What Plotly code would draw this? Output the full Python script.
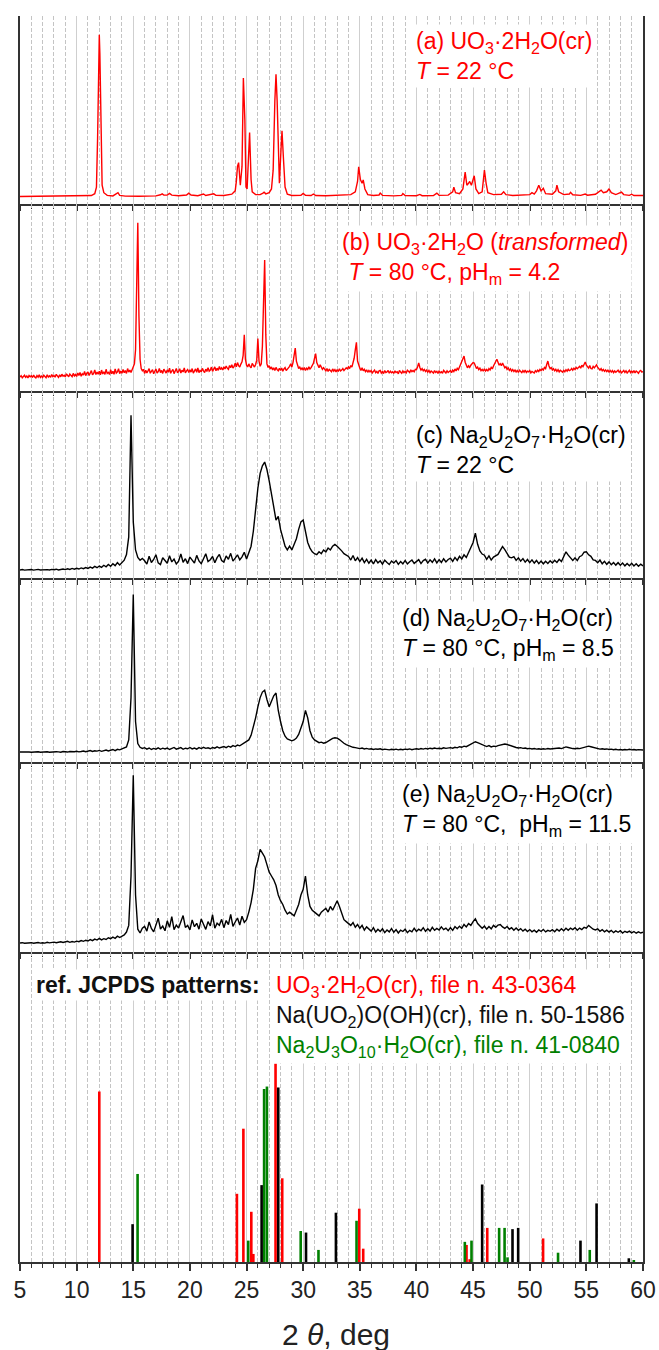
import numpy as np
import plotly.graph_objects as go

# ---------------- data ----------------
# (a) UO3.2H2O(cr), 22 C  -- smooth pattern, vertices (2theta, relative intensity %)
a_x = [5.0, 6.5, 8.0, 9.5, 10.5, 11.3, 11.6, 11.75, 11.85, 11.95, 12.0, 12.05, 12.15, 12.25, 12.4, 12.7,
       13.2, 13.5, 13.65, 13.8, 14.3, 15.5, 17.0, 17.4, 17.55, 17.7, 18.0, 18.2, 18.4, 19.0, 19.7, 19.9,
       20.1, 20.7, 21.1, 21.2, 21.4, 21.9, 22.1, 22.3, 23.0, 23.7, 24.0, 24.1, 24.2, 24.3, 24.45, 24.6,
       24.72, 24.85, 24.95, 25.05, 25.15, 25.27, 25.4, 25.5, 25.8, 26.2, 26.45, 26.55, 26.7, 27.0, 27.2,
       27.35, 27.5, 27.6, 27.7, 27.9, 28.05, 28.13, 28.25, 28.4, 28.6, 29.0, 29.8, 30.0, 30.2, 30.7, 30.9,
       31.1, 32.0, 32.7, 33.5, 34.2, 34.6, 34.8, 34.9, 35.05, 35.2, 35.3, 35.45, 35.7, 36.2, 36.7, 36.8,
       37.0, 38.0, 38.7, 38.8, 39.0, 40.0, 40.3, 40.5, 41.5, 41.8, 42.0, 42.8, 43.2, 43.3, 43.45, 43.8,
       44.1, 44.3, 44.45, 44.6, 44.7, 44.85, 45.0, 45.1, 45.25, 45.5, 45.8, 46.0, 46.15, 46.3, 46.8,
       47.5, 47.7, 47.9, 48.5, 49.5, 50.0, 50.2, 50.4, 50.6, 50.8, 51.0, 51.2, 51.4, 52.0, 52.3, 52.4,
       52.55, 53.0, 53.5, 53.6, 53.8, 54.5, 54.9, 55.1, 55.8, 56.1, 56.3, 56.5, 56.8, 57.0, 57.2, 57.6,
       58.1, 58.3, 58.8, 59.0, 59.2, 60.0]
a_y = [4.0, 4.1, 4.0, 4.2, 4.1, 4.5, 5.5, 9, 35, 80, 90, 80, 35, 10, 6, 4.6,
       4.3, 5.2, 6.0, 4.6, 4.2, 4.1, 4.3, 4.9, 5.4, 4.7, 4.8, 5.6, 4.7, 4.4, 4.8, 5.8,
       4.8, 4.4, 5.0, 5.3, 4.5, 4.9, 5.4, 4.6, 4.5, 5.2, 7, 12, 20, 22, 10, 20,
       67, 45, 9, 8, 20, 38, 13, 6.5, 5.0, 5.0, 5.8, 6.3, 5.4, 6.0, 8,
       18, 55, 69, 55, 11, 30, 39, 25, 9, 5.2, 4.5, 4.6, 5.6, 4.6, 4.5, 5.3,
       4.5, 4.4, 4.6, 4.8, 5.0, 6.5, 12, 19.8, 13, 11, 12.8, 8, 5, 4.5, 4.8, 5.8,
       4.6, 4.3, 4.6, 5.6, 4.5, 4.4, 5.1, 4.4, 4.5, 5.8, 4.6, 4.7, 6.5, 9, 6, 5.5,
       8, 17, 10, 11, 12, 10, 13, 15, 8, 5.5, 6.5, 18, 11, 6, 5,
       5.2, 6.5, 5.0, 4.5, 4.6, 5.0, 6.0, 5.3, 7, 10, 7, 8.4, 5.5, 5.2, 7, 10,
       6.5, 5.0, 5.3, 6.2, 4.9, 4.6, 5.3, 4.7, 5.2, 6.5, 7.4, 6.0, 6.5, 8, 6, 5.0,
       6.3, 5.0, 4.6, 5.2, 4.5, 4.5]

# (b) UO3.2H2O transformed, 80 C, pHm 4.2 -- scan 5..60 deg, step 0.1
b_start, b_step = 5.0, 0.1
b_y = [7.4, 8.2, 7.1, 7.9, 8.4, 7.3, 8.0, 7.0, 8.3, 7.6,
       8.1, 7.2, 8.5, 7.5, 7.0, 8.2, 7.4, 8.6, 7.3, 8.0,
       7.2, 8.4, 7.6, 7.1, 8.7, 7.5, 8.1, 7.3, 8.8, 7.7,
       8.3, 7.4, 8.9, 7.8, 7.3, 8.6, 7.6, 9.0, 7.9, 8.4,
       7.5, 9.2, 8.0, 7.6, 9.1, 8.2, 7.7, 9.4, 8.1, 8.8,
       7.8, 9.6, 8.3, 9.9, 7.9, 9.2, 8.5, 10.4, 8.2, 9.5,
       10.2, 8.3, 9.8, 10.9, 8.6, 9.4, 11.3, 8.8, 10.1, 9.0,
       10.6, 8.7, 11.2, 9.1, 10.3, 8.9, 11.6, 9.4, 10.0, 8.8,
       11.4, 9.2, 10.5, 8.9, 11.8, 9.6, 10.2, 11.9, 9.3, 10.7,
       9.5, 11.5, 9.8, 10.9, 9.4, 12.0, 10.1, 11.2, 9.9, 11.8,
       12.5, 14.5, 22, 55, 90, 40, 17, 12, 10.8, 11.6,
       9.4, 11.1, 9.7, 10.8, 12.0, 9.5, 10.6, 11.4, 9.2, 10.9,
       11.8, 9.6, 10.3, 12.1, 9.8, 11.0, 9.4, 11.7, 10.2, 9.6,
       11.3, 10.0, 12.2, 9.5, 10.7, 11.6, 9.3, 10.9, 12.0, 9.8,
       10.5, 11.9, 9.6, 11.1, 10.2, 12.3, 9.7, 10.8, 11.5, 9.9,
       11.4, 10.1, 12.0, 9.6, 10.9, 11.8, 10.0, 12.4, 9.8, 11.0,
       10.3, 12.1, 10.8, 9.9, 11.7, 10.4, 12.5, 10.6, 11.2, 12.8,
       10.5, 11.6, 12.9, 10.8, 12.2, 11.0, 13.1, 11.5, 12.4, 11.2,
       12.9, 11.8, 13.4, 12.2, 11.6, 13.6, 12.5, 14.0, 12.3, 13.2,
       14.8, 13.0, 15.2, 13.6, 12.8, 14.4, 15.6, 19, 30, 17,
       13.8, 12.9, 14.5, 13.2, 12.4, 14.8, 13.5, 12.8, 14.2, 16.5,
       28, 16, 13.2, 14.5, 24, 58, 70, 30, 14.5, 12.6,
       13.5, 11.8, 12.9, 11.2, 12.4, 11.0, 12.6, 11.4, 10.8, 12.1,
       11.0, 12.3, 10.6, 11.8, 12.5, 10.9, 11.6, 12.8, 13.2, 14.6,
       12.8, 15.2, 19, 23, 16, 13.2, 12.0, 12.8, 11.5, 12.3,
       11.2, 12.6, 11.0, 12.2, 11.5, 12.9, 11.8, 12.5, 13.6, 14.8,
       17.5, 20, 15.2, 13.5, 12.4, 14.0, 12.2, 11.6, 12.5, 11.2,
       10.8, 12.0, 10.5, 11.6, 11.0, 10.3, 11.8, 10.6, 11.4, 10.2,
       11.5, 10.4, 11.9, 10.7, 11.2, 12.0, 10.9, 11.7, 12.4, 11.8,
       12.9, 12.0, 13.6, 12.8, 15.0, 17.5, 22, 26, 16, 13.2,
       12.2, 11.0, 12.4, 10.8, 11.6, 10.4, 11.3, 10.0, 11.0, 10.2,
       10.9, 9.7, 10.6, 11.2, 9.8, 10.5, 9.4, 10.8, 11.0, 9.6,
       10.4, 9.3, 10.9, 9.9, 10.2, 11.0, 9.5, 10.6, 9.8, 10.3,
       9.4, 10.8, 9.9, 10.3, 9.2, 11.0, 10.1, 9.5, 10.7, 9.8,
       10.5, 9.7, 11.1, 10.2, 9.9, 11.3, 10.4, 11.0, 10.3, 11.6,
       11.4, 13.0, 15, 12.6, 11.2, 12.0, 10.8, 11.5, 10.4, 11.2,
       10.1, 11.0, 9.8, 10.7, 10.2, 9.6, 10.9, 9.9, 10.5, 9.4,
       10.6, 9.8, 10.3, 9.5, 11.0, 10.0, 9.6, 10.8, 9.9, 10.4,
       10.9, 9.8, 11.2, 10.4, 11.8, 10.7, 12.1, 11.4, 13.0, 14.6,
       16.0, 17.6, 18.7, 15.4, 13.6, 12.4, 13.5, 12.6, 13.8, 14.4,
       15.2, 15, 13.2, 12.0, 12.8, 11.4, 12.2, 10.9, 11.6, 10.6,
       11.8, 10.7, 11.5, 10.6, 12.0, 11.3, 12.6, 11.8, 13.4, 14.5,
       15.8, 17, 15.4, 13.8, 14.6, 13.5, 15, 13.2, 12.4, 13.0,
       11.6, 12.4, 11.0, 11.8, 10.6, 11.5, 10.4, 11.2, 10.2, 11.0,
       10.0, 11.1, 10.3, 9.8, 10.9, 10.1, 11.2, 9.9, 10.6, 10.2,
       10.9, 9.7, 10.5, 10.1, 9.6, 10.8, 10.2, 11.1, 10.4, 11.5,
       10.9, 11.8, 11.2, 12.6, 12.0, 14.2, 16, 13.4, 12.0, 12.5,
       11.2, 11.9, 10.8, 11.6, 10.5, 11.4, 10.2, 11.1, 10.6, 10.1,
       11.0, 10.3, 11.4, 10.6, 11.6, 10.9, 11.2, 12.0, 11.1, 12.2,
       11.5, 12.6, 11.9, 12.8, 13.2, 12.2, 13.8, 13.0, 14.4, 15.5,
       13.8, 13.2, 12.2, 13.6, 12.0, 11.8, 13.2, 12.4, 13.6, 14.0,
       12.6, 11.8, 11.2, 12.0, 10.8, 11.5, 10.5, 11.3, 10.4, 11.1,
       10.2, 11.0, 10.1, 10.9, 9.8, 10.7, 10.0, 10.6, 11.2, 10.0,
       10.8, 9.7, 10.6, 11.0, 9.9, 10.8, 9.6, 10.5, 11.1, 9.8,
       10.6, 9.9, 10.9, 9.7, 10.7, 10.2, 9.5, 10.6, 11.0, 10.1,
       10.4]

# (c), (d), (e) Na2U2O7.H2O(cr) -- scan 5..60 deg, step 0.2
cde_start, cde_step = 5.0, 0.2
c_y = [4.3, 4.5, 4.2, 4.4, 4.3, 4.5, 4.2, 4.4, 4.6, 4.3, 4.4, 4.2, 4.5, 4.3, 4.6,
       4.4, 4.7, 4.3, 4.5, 4.8, 4.5, 4.9, 4.6, 5.1, 4.7, 5.2, 4.8, 5.4, 5.0, 5.6,
       5.1, 5.8, 5.3, 6.2, 5.5, 6.4, 5.7, 6.8, 6.0, 7.2, 6.3, 7.6, 6.6, 8.2, 7.0,
       8.0, 9.5, 12.5, 22, 87, 30, 15, 11, 9.5, 10.5,
       9.2, 7.4, 11.6, 8.3, 9.9, 12.4, 8.1, 7.2, 10.8, 9.4, 7.9, 11.9, 8.6, 10.1, 7.5,
       9.0, 12.8, 8.4, 10.3, 7.7, 11.2, 9.6, 8.0, 12.1, 9.1, 7.6, 10.7, 13.0, 8.8, 9.8,
       11.5, 8.2, 10.9, 12.6, 9.3, 8.5, 11.8, 10.0, 13.2, 9.0, 10.6, 12.4, 9.7, 11.3, 13.8,
       10.2, 13.5, 17, 25, 38, 48, 56, 60, 62, 58, 52, 44, 38, 31, 33,
       26, 21, 17, 15, 17, 15, 18, 21, 26, 30, 31, 24, 19, 16, 14,
       13, 12.5, 14, 13, 15, 14, 16, 15, 17, 18, 17, 16, 14.5, 13, 12,
       11.5, 9.6, 12.0, 9.2, 10.9, 8.8, 10.6, 8.2, 10.0, 7.9, 9.6, 7.6, 9.8, 8.1, 9.2,
       7.4, 9.5, 8.3, 7.2, 9.1, 8.0, 9.3, 7.3, 8.8, 7.6, 9.4, 7.5, 8.7, 9.6, 7.8,
       8.9, 9.8, 7.7, 9.3, 10.0, 8.0, 9.7, 8.4, 10.2, 8.1, 9.8, 8.3, 10.3, 8.6, 9.9,
       10.6, 8.9, 11.0, 9.4, 11.6, 10.2, 12.4, 11.0, 13.8, 16, 19, 24, 18, 14.5, 12.8,
       12.2, 10.0, 11.8, 9.6, 11.2, 11.8, 12.6, 14.8, 16.8, 15.2, 13.4, 11.2, 10.8, 11.4, 9.4,
       10.8, 9.0, 10.4, 8.5, 9.9, 8.2, 9.7, 8.0, 9.4, 7.7, 9.1, 7.6, 9.0, 7.8, 9.2,
       8.0, 9.5, 8.3, 10.0, 8.8, 11.5, 14, 12.2, 10.9, 9.4, 10.8, 9.3, 11.4, 12.0, 13.8,
       14, 12.4, 11.6, 9.7, 9.4, 8.2, 9.6, 7.6, 8.9, 7.3, 8.6, 7.1, 8.3, 6.9, 8.2,
       6.8, 8.0, 6.5, 7.8, 6.6, 7.9, 6.4, 7.6, 6.3, 7.4, 6.4]

d_y = [5.4, 5.5, 5.3, 5.5, 5.4, 5.3, 5.5, 5.4, 5.6, 5.3, 5.5, 5.4, 5.6, 5.3, 5.5,
       5.4, 5.6, 5.5, 5.3, 5.7, 5.5, 5.4, 5.7, 5.5, 5.6, 5.8, 5.5, 5.7, 6.0, 5.6,
       5.9, 6.2, 5.7, 6.1, 5.9, 6.3, 5.8, 6.2, 6.5, 6.0, 6.4, 6.8, 6.2, 6.9, 6.6,
       7.0, 7.5, 8.2, 12, 35, 91, 22, 10, 8.0, 7.4,
       7.8, 7.0, 7.6, 6.8, 7.4, 7.0, 7.7, 6.9, 7.5, 7.1, 7.6, 6.8, 7.4, 7.9, 7.0,
       7.3, 7.8, 6.9, 7.5, 7.2, 7.9, 7.1, 7.6, 7.0, 7.8, 7.3, 8.0, 7.4, 7.7, 7.2,
       7.9, 7.5, 8.2, 7.6, 8.0, 8.4, 7.8, 8.6, 8.1, 8.9, 8.4, 9.2, 8.8, 9.6, 10.2,
       10.8, 12, 14.5, 19, 24, 30, 35, 38, 39, 34, 30, 33, 36, 37.5, 28,
       22, 17, 14, 12.5, 12, 11.5, 12, 13, 15, 18, 22, 28, 24, 17, 13.5,
       12, 11.2, 10.5, 10.8, 10.2, 10.6, 11.4, 12, 12.8, 13.2, 13, 12.2, 11, 10.2, 9.4,
       8.8, 8.4, 8.0, 7.8, 7.5, 7.3, 7.6, 7.1, 7.4, 7.0, 7.2, 6.8, 7.1, 6.9, 7.2,
       6.7, 7.0, 6.8, 6.6, 6.9, 6.7, 7.0, 6.6, 6.9, 6.7, 7.0, 6.8, 7.1, 6.7, 7.0,
       7.2, 6.9, 7.3, 7.0, 7.4, 7.1, 7.5, 7.2, 7.6, 7.3, 7.5, 7.2, 7.7, 7.4, 7.6,
       7.8, 7.5, 8.0, 7.7, 8.3, 8.0, 8.6, 8.3, 9.0, 9.5, 10.2, 11.0, 10.5, 10.0, 9.2,
       8.8, 8.4, 8.9, 8.2, 8.6, 8.4, 8.9, 9.2, 9.5, 9.8, 9.5, 9.0, 8.6, 8.2, 7.9,
       7.6, 7.8, 7.4, 7.6, 7.2, 7.4, 7.1, 7.3, 7.0, 7.2, 6.9, 7.2, 7.0, 7.3, 7.1,
       7.2, 7.4, 7.1, 7.6, 7.3, 7.8, 8.2, 7.9, 7.5, 7.3, 7.2, 7.5, 7.3, 7.7, 8.0,
       8.2, 8.6, 8.3, 7.9, 7.6, 7.3, 7.0, 7.2, 6.9, 7.1, 6.8, 7.0, 6.7, 6.9, 6.6,
       6.8, 6.5, 6.8, 6.6, 6.9, 6.6, 6.8, 6.5, 6.7, 6.6, 6.5]

e_y = [4.7, 4.9, 4.6, 4.8, 4.7, 4.9, 4.6, 4.8, 5.0, 4.7, 4.9, 4.7, 5.1, 4.8, 5.0,
       5.2, 4.9, 5.1, 5.4, 5.0, 5.3, 5.6, 5.1, 5.5, 5.2, 5.7, 5.4, 6.0, 5.6, 6.2,
       5.8, 6.5, 6.0, 6.8, 6.3, 7.2, 6.4, 7.0, 6.6, 7.5, 7.0, 7.8, 7.2, 8.3, 7.6,
       8.5, 9.0, 10.5, 14, 40, 93, 30, 12, 10, 12.5,
       13.5, 11, 15.8, 12.4, 10.6, 14.9, 17.8, 12.1, 13.6, 11.2, 16.4, 13.0, 18.6, 11.8, 14.2,
       12.6, 15.5, 19.2, 12.9, 14.0, 11.6, 16.9, 13.3, 15.1, 12.0, 17.4, 14.6, 11.9, 16.0, 13.7,
       19.6, 12.5, 15.2, 14.1, 17.2, 12.8, 16.6, 14.4, 19.8, 13.5, 15.8, 17.9, 14.2, 18.8, 15.6,
       17, 21, 26, 33, 44, 48, 54, 52, 50, 46, 42, 40, 38, 35, 30,
       27, 25, 22, 20, 21, 20, 19, 22, 25, 30, 33, 40, 30, 24, 22,
       21, 20, 19, 21, 22, 23, 21, 24, 22, 25, 27, 24, 20, 17, 16,
       15, 14, 15.5, 13, 14.5, 12.5, 14, 11.5, 13.2, 12, 11, 12.8, 10.5, 12, 10.8,
       12.2, 10.2, 11.6, 10.6, 12.4, 10.4, 11.8, 10.0, 11.5, 10.8, 12, 10.2, 11.4, 10.6, 12.5,
       10.8, 12, 11.2, 12.8, 10.9, 12.2, 11.0, 13, 11.4, 12.4, 11.6, 13.2, 11.8, 12.6, 11.2,
       12.8, 11.4, 13.4, 12.2, 13.6, 12.4, 14.5, 13.2, 15, 14, 16, 17.5, 15, 13.8, 12.5,
       13.6, 12, 13.4, 12.2, 14, 13, 14.2, 14.5, 13.2, 12.4, 13.4, 12, 12.8, 11.5, 12.6,
       11.4, 12.3, 11.0, 12, 10.8, 11.8, 10.6, 11.5, 10.4, 11.6, 10.8, 11.9, 10.6, 11.4, 10.9,
       11.8, 10.7, 12.0, 11.0, 12.2, 11.2, 12.5, 11.4, 12.6, 11.8, 12.8, 11.5, 12.6, 11.8, 13,
       12.5, 14, 13, 12, 11.6, 12.2, 10.9, 11.8, 10.6, 11.5, 10.5, 11.4, 10.2, 11.1, 10.4,
       11.2, 10.0, 10.9, 10.3, 11.0, 10.1, 10.8, 9.9, 10.6, 10.0, 10.4]

# reference JCPDS stick patterns (2theta, relative intensity %)
ref_uo3_x = [12.0, 24.15, 24.72, 25.42, 25.6, 27.56, 28.15, 34.95, 35.3, 44.42, 44.7, 46.25, 51.18]
ref_uo3_y = [55, 22, 43, 16.2, 2.6, 64, 27, 17.2, 4.3, 5.5, 0.9, 11, 7.6]
ref_na_x = [14.94, 26.33, 27.8, 30.25, 32.89, 45.8, 48.48, 48.98, 54.48, 55.9, 58.75]
ref_na_y = [12.2, 24.8, 56.3, 9.5, 15.9, 25, 10.6, 11, 6.9, 18.9, 1.2]
ref_na2u3_x = [15.38, 25.15, 26.55, 26.8, 29.78, 31.35, 34.71, 44.27, 44.86, 47.3, 47.78, 48.04, 52.5, 55.3, 59.19]
ref_na2u3_y = [28.4, 6.9, 55.8, 56.6, 10, 3.9, 13.3, 6.5, 6.9, 11, 11, 1.5, 3, 3.9, 0.4]

assert len(b_y) == 551, len(b_y)
assert len(c_y) == 276 and len(d_y) == 276 and len(e_y) == 276, (len(c_y), len(d_y), len(e_y))

b_x = np.round(b_start + b_step * np.arange(len(b_y)), 3)
cde_x = np.round(cde_start + cde_step * np.arange(len(c_y)), 3)

# ---------------- figure ----------------
FONT = "Liberation Sans, Arial, Helvetica, sans-serif"
W, H = 659, 1350
ML, MR, MT, MB = 20, 16, 16, 88
PH = H - MT - MB
PW = W - ML - MR


def pyf(y):
    return (H - MB - y) / PH


def pxf(x):
    return (x - ML) / PW


bounds = [16, 204, 391, 578, 762, 952, 1262]
RED, BLACK, GREEN = "#ff0000", "#000000", "#008000"

fig = go.Figure()
names = ["", "2", "3", "4", "5", "6"]

curves = [(a_x, a_y, RED), (b_x, b_y, RED), (cde_x, c_y, BLACK), (cde_x, d_y, BLACK), (cde_x, e_y, BLACK)]
for k, (xx, yy, col) in enumerate(curves):
    fig.add_trace(go.Scatter(x=xx, y=yy, mode="lines", line=dict(color=col, width=1.4),
                             xaxis="x" + names[k], yaxis="y" + names[k], showlegend=False,
                             hoverinfo="skip"))

for xx, yy, col in [(ref_uo3_x, ref_uo3_y, RED), (ref_na2u3_x, ref_na2u3_y, GREEN), (ref_na_x, ref_na_y, BLACK)]:
    fig.add_trace(go.Bar(x=xx, y=yy, width=0.23, marker=dict(color=col, line=dict(width=0)),
                         xaxis="x6", yaxis="y6", showlegend=False, hoverinfo="skip"))

layout = dict(
    width=W, height=H, margin=dict(l=ML, r=MR, t=MT, b=MB, autoexpand=False),
    paper_bgcolor="white", plot_bgcolor="white", barmode="overlay",
    font=dict(family=FONT, color="#222222"),
)
for k in range(6):
    n = names[k]
    bottom = k == 5
    layout["xaxis" + n] = dict(
        domain=[0, 1], anchor="y" + n, range=[5, 60], tick0=5, dtick=5, automargin=False,
        showline=True, linecolor="#333333", linewidth=1.5,
        ticks="outside", ticklen=7 if bottom else 5, tickwidth=1.5, tickcolor="#333333",
        showgrid=True, gridcolor="#cfcfcf", gridwidth=1.2,
        minor=dict(dtick=1, tick0=5, ticks="outside", ticklen=4.5 if bottom else 3, tickwidth=1,
                   tickcolor="#333333", showgrid=True, gridcolor="#c4c4c4", gridwidth=1,
                   griddash="4px,2px"),
        showticklabels=bottom, tickfont=dict(size=23, color="#222222", family=FONT),
        zeroline=False, fixedrange=True,
    )
    if k > 0:
        layout["xaxis" + n]["matches"] = "x"
    layout["yaxis" + n] = dict(
        domain=[pyf(bounds[k + 1]), pyf(bounds[k])], anchor="x" + n, range=[0, 100], automargin=False,
        showline=True, linecolor="#333333", linewidth=1.5, mirror=True,
        showticklabels=False, ticks="", showgrid=False, zeroline=False, fixedrange=True,
    )
fig.update_layout(**layout)

FS = 23
labels = [
    (412, 56, RED, "(a) UO<sub>3</sub>·2H<sub>2</sub>O(cr)<br><i>T</i> = 22 °C"),
    (338, 258, RED, "(b) UO<sub>3</sub>·2H<sub>2</sub>O (<i>transformed</i>)<br>\u00a0<i>T</i> = 80 °C, pH<sub>m</sub> = 4.2"),
    (412, 450, BLACK, "(c) Na<sub>2</sub>U<sub>2</sub>O<sub>7</sub>·H<sub>2</sub>O(cr)<br><i>T</i> = 22 °C"),
    (398, 634, BLACK, "(d) Na<sub>2</sub>U<sub>2</sub>O<sub>7</sub>·H<sub>2</sub>O(cr)<br><i>T</i> = 80 °C, pH<sub>m</sub> = 8.5"),
    (398, 810, BLACK, "(e) Na<sub>2</sub>U<sub>2</sub>O<sub>7</sub>·H<sub>2</sub>O(cr)<br><i>T</i> = 80 °C,\u00a0 pH<sub>m</sub> = 11.5"),
]
for x0, yc, col, txt in labels:
    fig.add_annotation(x=pxf(x0), y=pyf(yc), xref="paper", yref="paper", xanchor="left", yanchor="middle",
                       text=txt, showarrow=False, align="left", bgcolor="white", borderpad=3,
                       font=dict(size=FS, color=col, family=FONT))

fig.add_annotation(x=pxf(33), y=pyf(985), xref="paper", yref="paper", xanchor="left", yanchor="middle",
                   text="<b>ref. JCPDS patterns:</b>", showarrow=False, bgcolor="white", borderpad=2,
                   font=dict(size=FS, color="#111111", family=FONT))
ref_txt = ("<span style='color:#ff0000'>UO<sub>3</sub>·2H<sub>2</sub>O(cr), file n. 43-0364</span><br>"
           "<span style='color:#111111'>Na(UO<sub>2</sub>)O(OH)(cr), file n. 50-1586</span><br>"
           "<span style='color:#008000'>Na<sub>2</sub>U<sub>3</sub>O<sub>10</sub>·H<sub>2</sub>O(cr), file n. 41-0840</span>")
fig.add_annotation(x=pxf(273), y=pyf(1016), xref="paper", yref="paper", xanchor="left", yanchor="middle",
                   text=ref_txt, showarrow=False, align="left", bgcolor="white", borderpad=2,
                   font=dict(size=FS, family=FONT))

fig.add_annotation(x=pxf(336), y=pyf(1334), xref="paper", yref="paper", xanchor="center", yanchor="middle",
                   text="2 <i>θ</i>, deg", showarrow=False, font=dict(size=30, color="#222222", family=FONT))

# remove the browser's default 8px page margin so the figure sits at the window origin
fig.write_html("out.html", config={"displayModeBar": False},
               post_script="document.body.style.margin='0px';document.body.style.overflow='hidden';")
